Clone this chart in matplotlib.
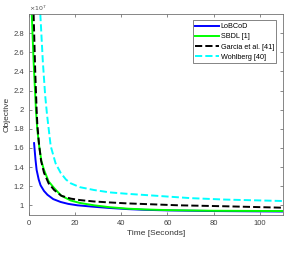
import matplotlib as mpl
mpl.use('Agg')
import matplotlib.pyplot as plt
from matplotlib.ticker import FuncFormatter

mpl.rcParams['font.family'] = ['Liberation Sans', 'DejaVu Sans']
mpl.rcParams['xtick.direction'] = 'in'
mpl.rcParams['ytick.direction'] = 'in'

# objective values in units of 1e7, time in seconds
t_lobcod = [2.2, 2.8, 3.3, 4.2, 5.0, 6.5, 8.0, 10.5, 13.7, 17, 21, 28, 35, 43, 50, 60, 80, 110]
v_lobcod = [1.65, 1.48, 1.37, 1.27, 1.21, 1.15, 1.11, 1.065, 1.035, 1.015, 1.0, 0.985, 0.972, 0.96, 0.953, 0.947, 0.94, 0.935]

t_sbdl = [1.2, 2, 3, 3.6, 4.5, 5.4, 6.5, 8.5, 10.9, 14, 18.1, 22, 28.2, 35, 42.7, 50, 60, 80, 110]
v_sbdl = [3.0, 2.5, 2.0, 1.79, 1.6, 1.46, 1.37, 1.25, 1.18, 1.1, 1.05, 1.025, 1.0, 0.98, 0.965, 0.957, 0.95, 0.943, 0.94]

t_garcia = [2.0, 2.7, 3.3, 3.6, 4.3, 5.2, 6.5, 8.5, 10.9, 14, 18.1, 22, 28.2, 35, 42.7, 65, 85, 110]
v_garcia = [3.0, 2.4, 2.0, 1.85, 1.65, 1.47, 1.34, 1.23, 1.16, 1.1, 1.07, 1.055, 1.04, 1.03, 1.02, 1.0, 0.99, 0.975]

t_wohl = [4.9, 6, 7, 7.8, 9.4, 11.5, 13.7, 16, 18.1, 22, 28.2, 35, 42.7, 55, 70, 85, 110]
v_wohl = [3.0, 2.5, 2.15, 1.95, 1.62, 1.44, 1.34, 1.27, 1.23, 1.19, 1.16, 1.135, 1.12, 1.1, 1.075, 1.06, 1.045]

labels = ['LoBCoD', 'SBDL [1]', 'Garcia et al. [41]', 'Wohlberg [40]']

x_ticks = [0, 20, 40, 60, 80, 100]
y_ticks = [1, 1.2, 1.4, 1.6, 1.8, 2, 2.2, 2.4, 2.6, 2.8]

fig = plt.figure(figsize=(2.99, 2.54), dpi=100)
ax = fig.add_axes([0.097, 0.154, 0.849, 0.791])

ax.plot(t_lobcod, v_lobcod, color=(0, 0, 1), lw=1.4, label=labels[0])
ax.plot(t_sbdl, v_sbdl, color=(0, 1, 0), lw=1.4, label=labels[1])
ax.plot(t_garcia, v_garcia, color='k', lw=1.4, ls='--', label=labels[2])
ax.plot(t_wohl, v_wohl, color=(0, 1, 1), lw=1.4, ls='--', label=labels[3])

ax.set_xlim(0, 110)
ax.set_ylim(0.9, 3.0)
ax.set_xticks(x_ticks)
ax.set_yticks(y_ticks)
ax.yaxis.set_major_formatter(FuncFormatter(lambda v, p: '%g' % v))
ax.tick_params(labelsize=5.5, colors='0.35', length=2.5, width=0.5,
               top=True, right=True, labelcolor='0.25')
for s in ax.spines.values():
    s.set_color('0.45')
    s.set_linewidth(0.6)

ax.set_xlabel('Time [Seconds]', fontsize=6, color='0.2', labelpad=2)
ax.set_ylabel('Objective', fontsize=6, color='0.2', labelpad=2)
ax.text(0.0, 1.005, r'$\times10^7$', transform=ax.transAxes, fontsize=4.5,
        color='0.3', va='bottom', ha='left')

leg = ax.legend(loc='upper right', fontsize=5.2, frameon=True, fancybox=False,
                handlelength=3.3, borderpad=0.35, labelspacing=0.45,
                handletextpad=0.2, borderaxespad=0.9)
leg.get_frame().set_edgecolor('0.3')
leg.get_frame().set_linewidth(0.6)

fig.savefig('out.png', dpi=100)
